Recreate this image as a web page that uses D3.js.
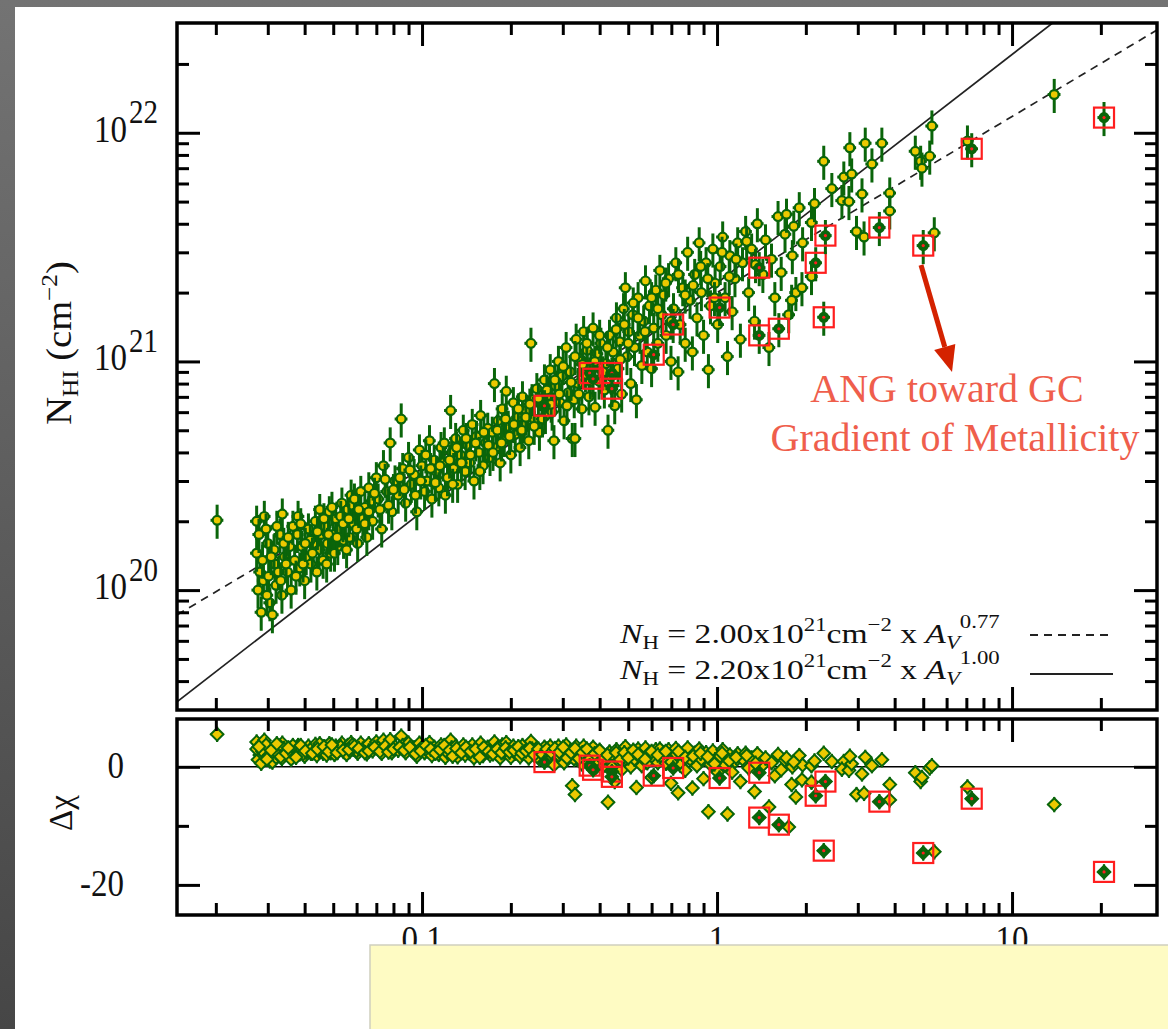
<!DOCTYPE html>
<html>
<head>
<meta charset="utf-8">
<script src="https://cdn.jsdelivr.net/npm/d3@7"></script>
<style>
  body { margin: 0; background: #5c5c5c; }
  svg { display: block; }
  text { font-family: 'Liberation Serif', 'Times New Roman', serif; }
</style>
</head>
<body>
<svg id="chart" width="1168" height="1029"></svg>
<script>
// ---- data ----
// A_V (mag), N_HI in units of 1e20 cm^-2, residual delta chi
const avMag = [
  0.0202, 0.0275, 0.0292, 0.0336, 0.0380, 0.0282, 0.0275, 0.0278, 0.0285, 0.0290,
  0.0300, 0.0305, 0.0311, 0.0317, 0.0320, 0.0330, 0.0335, 0.0342, 0.0350, 0.0356,
  0.0360, 0.0370, 0.0378, 0.0385, 0.0392, 0.0400, 0.0405, 0.0412, 0.0420, 0.0428,
  0.0435, 0.0440, 0.0448, 0.0455, 0.0462, 0.0470, 0.0478, 0.0485, 0.0490, 0.0500,
  0.0510, 0.0518, 0.0525, 0.0535, 0.0542, 0.0550, 0.0560, 0.0568, 0.0575, 0.0585,
  0.0595, 0.0605, 0.0288, 0.0296, 0.0302, 0.0315, 0.0326, 0.0340, 0.0365, 0.0395,
  0.0418, 0.0450, 0.0475, 0.0505, 0.0530, 0.0555, 0.0580, 0.0600, 0.0620, 0.0630,
  0.0650, 0.0675, 0.064, 0.066, 0.068, 0.070, 0.071, 0.073, 0.074, 0.076,
  0.078, 0.079, 0.081, 0.083, 0.085, 0.086, 0.088, 0.090, 0.092, 0.094,
  0.096, 0.098, 0.100, 0.102, 0.104, 0.106, 0.108, 0.110, 0.112, 0.114,
  0.116, 0.118, 0.120, 0.122, 0.125, 0.126, 0.128, 0.130, 0.132, 0.135,
  0.138, 0.140, 0.143, 0.145, 0.148, 0.150, 0.153, 0.156, 0.158, 0.161,
  0.164, 0.167, 0.170, 0.173, 0.176, 0.178, 0.181, 0.184, 0.187, 0.190,
  0.193, 0.196, 0.200, 0.204, 0.207, 0.211, 0.215, 0.219, 0.222, 0.226,
  0.230, 0.234, 0.236, 0.240, 0.245, 0.250, 0.255, 0.260, 0.262, 0.268,
  0.272, 0.276, 0.280, 0.284, 0.290, 0.294, 0.298, 0.303, 0.308, 0.313,
  0.318, 0.323, 0.330, 0.328, 0.333, 0.338, 0.343, 0.348, 0.353, 0.358,
  0.363, 0.368, 0.374, 0.380, 0.386, 0.392, 0.398, 0.404, 0.415, 0.420,
  0.427, 0.432, 0.438, 0.444, 0.450, 0.456, 0.462, 0.468, 0.475, 0.482,
  0.489, 0.495, 0.502, 0.510, 0.518, 0.525, 0.533, 0.540, 0.548, 0.556,
  0.564, 0.572, 0.580, 0.590, 0.600, 0.610, 0.620, 0.630, 0.640, 0.650,
  0.660, 0.672, 0.685, 0.698, 0.712, 0.725, 0.738, 0.750, 0.765, 0.780,
  0.795, 0.810, 0.825, 0.840, 0.855, 0.870, 0.885, 0.900, 0.918, 0.935,
  0.950, 0.968, 0.985, 1.005, 1.025, 1.045, 1.065, 1.085, 1.105, 1.125,
  1.150, 1.175, 1.20, 1.22, 1.25, 1.28, 1.31, 1.34, 1.37, 1.43,
  1.46, 1.50, 1.53, 1.57, 1.61, 1.65, 1.70, 1.75, 1.80, 1.85,
  1.90, 1.95, 1.72, 1.82, 1.79, 1.94, 2.09, 2.09, 2.14, 2.30,
  2.45, 2.69, 2.65, 2.80, 2.86, 2.82, 3.18, 3.62, 3.10, 3.35,
  3.85, 3.85, 2.97, 3.15, 4.70, 4.90, 5.26, 5.35, 4.95, 5.45,
  7.06, 13.9,
  0.0280, 0.0298, 0.0308, 0.0322, 0.0332, 0.0346, 0.0352, 0.0374, 0.0388, 0.0402,
  0.0425, 0.0442, 0.0465, 0.0482, 0.0495, 0.0515, 0.0540, 0.0565, 0.0590, 0.0610,
  0.0640, 0.0660, 0.0690, 0.0720, 0.0750, 0.0770, 0.0800, 0.0840, 0.0870, 0.0910,
  0.0950, 0.0990, 0.1030, 0.1070, 0.1110, 0.1150, 0.1190, 0.1240, 0.1270, 0.1310,
  0.1360, 0.1410, 0.1460, 0.1520, 0.1570, 0.1620, 0.1680, 0.1740, 0.1800, 0.1860,
  0.1920, 0.1980, 0.2050, 0.2120, 0.2180, 0.2250, 0.2320, 0.2400, 0.2480, 0.2560,
  0.2650, 0.2740, 0.2820, 0.2920, 0.3010, 0.3100, 0.3200, 0.3300, 0.3400, 0.3500,
  0.3620, 0.3720, 0.3850, 0.4000, 0.4100, 0.4250, 0.4400, 0.4550, 0.4700, 0.4850,
  0.5000, 0.5200, 0.5400, 0.5700, 0.6000, 0.6300, 0.6700, 0.7000, 0.7400, 0.7800,
  0.8300, 0.8800, 0.9300, 0.9800, 1.0400, 1.1000, 1.1600, 1.2600, 1.3500
];
const nhi20 = [
  2.02, 2.00, 2.10, 2.15, 2.10, 1.20, 1.45, 1.00, 0.80, 1.10,
  1.60, 0.88, 0.78, 1.30, 1.05, 1.75, 0.95, 1.40, 1.20, 1.55,
  1.00, 1.35, 1.75, 1.25, 1.55, 1.10, 1.40, 1.85, 1.30, 1.60,
  2.00, 1.20, 1.50, 1.75, 1.35, 1.90, 1.60, 2.20, 1.45, 1.75,
  2.05, 1.55, 1.85, 2.40, 1.65, 2.00, 2.25, 1.70, 2.60, 1.95,
  2.15, 1.60, 1.35, 1.85, 1.15, 1.50, 1.20, 1.60, 1.90, 1.30,
  1.65, 2.25, 1.30, 1.45, 2.10, 1.50, 2.35, 1.85, 2.70, 2.05,
  1.70, 2.45, 2.30, 2.80, 2.00, 3.10, 2.50, 1.85, 3.50, 2.70,
  4.40, 2.20, 3.00, 2.60, 5.60, 3.40, 2.40, 3.80, 2.90, 3.20,
  2.20, 4.10, 3.50, 2.70, 3.00, 4.50, 2.50, 3.70, 3.30, 2.80,
  4.20, 3.60, 2.60, 3.10, 6.10, 4.00, 3.40, 4.60, 2.90, 3.90,
  5.00, 3.30, 4.30, 3.60, 5.30, 3.00, 4.70, 4.00, 5.80, 3.50,
  4.40, 5.10, 3.80, 4.90, 8.00, 4.20, 5.50, 3.60, 6.20, 4.60,
  7.40, 5.20, 3.90, 6.60, 4.80, 5.70, 4.20, 7.00, 5.30, 6.10,
  4.50, 12.0, 6.80, 5.60, 7.60, 4.90, 6.40, 8.30, 5.80, 7.10,
  9.20, 6.00, 4.50, 7.80, 10.0, 6.60, 8.60, 5.50, 11.5, 7.30,
  9.00, 4.60, 4.60, 6.80, 12.5, 8.00, 10.3, 6.20, 13.5, 8.80,
  11.2, 7.00, 9.60, 14.0, 6.30, 10.8, 8.20, 12.0, 7.50, 9.80,
  5.00, 13.0, 8.60, 11.0, 6.40, 15.5, 9.30, 12.2, 7.20, 17.0,
  21.0, 10.5, 13.5, 8.00, 16.0, 11.5, 6.80, 19.0, 13.0, 9.60,
  15.0, 22.5, 11.0, 17.5, 9.30, 14.0, 20.5, 12.0, 25.0, 16.0,
  19.5, 13.0, 23.0, 10.0, 17.0, 27.0, 9.00, 14.5, 21.0, 12.0,
  30.0, 18.5, 11.0, 24.0, 15.5, 33.0, 20.0, 13.0, 27.0, 9.20,
  17.5, 31.0, 22.0, 14.5, 26.0, 35.0, 19.0, 10.5, 29.0, 16.5,
  23.0, 33.0, 12.5, 27.0, 37.0, 20.0, 31.0, 15.0, 40.0, 24.0,
  34.0, 11.5, 28.0, 19.0, 43.0, 24.5, 36.0, 16.0, 29.0, 20.0,
  47.0, 33.0, 44.0, 39.0, 18.5, 21.0, 23.5, 40.5, 49.0, 75.0,
  57.0, 64.0, 50.5, 50.0, 66.0, 86.0, 90.0, 90.0, 54.0, 73.0,
  54.5, 45.5, 37.0, 35.0, 83.0, 75.0, 79.0, 107, 70.0, 36.5,
  92.0, 147,
  1.75, 0.95, 1.40, 1.90, 1.10, 1.30, 1.70, 1.15, 1.95, 1.60,
  1.45, 1.80, 2.05, 1.75, 2.30, 1.70, 1.95, 2.05, 2.50, 2.25,
  1.95, 2.20, 2.65, 2.25, 3.05, 2.35, 2.75, 3.10, 2.75, 3.35,
  2.60, 3.00, 3.90, 3.40, 2.95, 3.50, 4.40, 3.70, 2.90, 4.20,
  3.60, 4.60, 3.90, 4.40, 3.30, 4.90, 4.30, 4.00, 5.00, 4.40,
  5.60, 4.70, 5.30, 6.20, 5.00, 5.70, 6.50, 5.20, 6.90, 5.60,
  7.50, 6.50, 8.30, 7.20, 9.50, 6.40, 8.10, 10.5, 7.20, 9.70,
  12.0, 8.20, 10.0, 13.0, 9.00, 11.5, 7.80, 13.8, 10.2, 14.5,
  12.0, 18.0, 15.5, 13.5, 19.0, 17.0, 22.0, 15.0, 24.0, 19.5,
  21.5, 26.0, 23.0, 19.0, 30.0, 23.5, 28.0, 33.5, 26.5
];
const dChi = [
  5.5, 4.2, 4.5, 4.0, 3.6, 2.0, 3.0, 1.2, 0.6, 2.0,
  3.2, 1.0, 0.8, 2.4, 1.6, 3.5, 1.4, 2.7, 2.2, 3.0,
  1.3, 2.5, 3.3, 2.2, 2.9, 1.8, 2.5, 3.5, 2.3, 2.8,
  3.8, 1.9, 2.6, 3.1, 2.3, 3.3, 2.8, 3.9, 2.4, 3.0,
  3.5, 2.5, 3.1, 4.0, 2.6, 3.2, 3.6, 2.6, 4.1, 3.0,
  3.3, 2.3, 2.6, 3.7, 1.9, 2.9, 2.1, 3.1, 3.6, 2.2,
  2.9, 3.9, 2.0, 2.1, 3.4, 2.1, 3.7, 2.7, 4.0, 3.0,
  2.2, 3.3, 3.2, 3.9, 2.7, 4.2, 3.3, 2.3, 4.5, 3.4,
  4.6, 2.4, 3.4, 2.8, 5.2, 3.6, 2.4, 4.0, 2.9, 3.2,
  1.8, 4.0, 3.3, 2.4, 2.7, 4.1, 1.9, 3.3, 2.8, 2.1,
  3.7, 3.0, 1.6, 2.4, 4.5, 3.2, 2.5, 3.5, 1.7, 2.8,
  3.7, 2.0, 3.0, 2.3, 3.7, 1.5, 3.1, 2.5, 4.0, 1.9,
  2.7, 3.3, 2.0, 3.0, 4.2, 2.3, 3.3, 1.5, 3.7, 2.5,
  4.1, 2.8, 1.6, 3.5, 2.3, 2.9, 1.7, 3.6, 2.4, 2.9,
  1.5, 4.3, 3.0, 2.2, 3.1, 1.3, 2.3, 3.3, 1.7, 2.6,
  3.5, 1.6, 0.3, 2.5, 3.5, 1.7, 2.7, 0.7, 3.7, 2.0,
  2.7, -3.2, -4.7, 1.3, 3.5, 1.9, 2.7, 0.5, 3.5, 1.7,
  2.6, 0.7, 2.0, 3.3, -0.3, 2.2, 0.9, 2.5, 0.3, 1.6,
  -6.0, 2.5, 0.8, 1.8, -2.5, 2.9, 1.0, 2.0, -0.5, 3.0,
  3.4, 1.2, 2.1, 0.0, 2.5, 1.3, -3.5, 3.0, 1.6, 0.2,
  2.1, 3.2, 0.7, 2.4, -1.8, 1.5, 2.9, 0.7, 3.0, 1.7,
  2.4, 0.6, 2.9, -2.8, 1.6, 3.1, -4.4, 0.3, 2.1, -0.6,
  3.2, 1.3, -3.6, 2.3, 0.2, 3.0, 1.3, -2.0, 2.4, -7.6,
  0.4, 2.7, 1.2, -0.9, 1.8, 2.9, 0.3, -8.0, 2.0, -0.9,
  0.9, 2.2, -2.5, 1.3, 2.3, -0.2, 1.5, -4.2, 2.2, 0.3,
  1.5, -6.8, 0.7, -1.5, 2.1, -0.5, 1.1, -10.2, 0.0, -5.1,
  1.9, 0.3, 1.5, 0.8, -3.0, -2.2, -2.6, 0.2, 1.0, 2.3,
  0.9, 0.9, -0.4, -0.6, 0.5, 1.8, 1.6, 1.2, -1.2, 0.2,
  -3.0, -5.6, -4.7, -4.5, -1.0, -2.5, -0.2, 0.2, -1.8, -14.4,
  -3.4, -6.4,
  3.4, 1.3, 2.8, 3.9, 1.7, 2.3, 3.2, 1.6, 3.6, 2.7,
  2.3, 3.0, 3.4, 2.6, 3.7, 2.4, 2.8, 2.9, 3.5, 3.1,
  2.4, 2.7, 3.3, 2.6, 3.5, 2.5, 3.0, 3.3, 2.8, 3.3,
  2.2, 2.7, 3.6, 3.0, 2.3, 2.9, 3.6, 2.8, 1.8, 3.1,
  2.4, 3.3, 2.6, 3.0, 1.6, 3.3, 2.6, 2.2, 3.0, 2.4,
  3.2, 2.5, 2.8, 3.4, 2.3, 2.7, 3.1, 2.0, 3.0, 2.1,
  3.0, 2.4, 3.1, 2.5, 3.3, 1.5, 2.4, 3.1, 1.4, 2.4,
  3.0, 1.4, 2.2, 2.8, 1.2, 2.0, 0.0, 2.4, 1.2, 2.4,
  1.5, 2.8, 2.1, 1.3, 2.6, 2.0, 2.6, 0.8, 2.6, 1.6,
  1.8, 2.3, 1.7, 0.5, 2.3, 1.0, 1.6, 1.9, 0.6
];

// sight lines marked with red squares (ANG toward the Galactic Centre)
const angAv    = [0.26, 0.37, 0.38, 0.44, 0.44, 0.61, 0.71, 1.02, 1.39, 1.39, 1.62, 2.16, 2.33, 2.30, 3.55, 5.00, 7.30, 20.5];
const angNhi20 = [6.4, 8.9, 8.4, 8.9, 7.6, 10.7, 14.5, 17.2, 25.7, 13.0, 13.9, 27.0, 35.5, 15.6, 38.5, 32.1, 85.1, 116.5];
const angDChi  = [0.8, 0.2, -0.5, -0.8, -1.7, -1.5, -0.2, -1.9, -1.0, -8.6, -9.8, -4.9, -2.5, -14.2, -5.9, -14.6, -5.4, -17.8];

// fitted relations N_H = norm * A_V^slope
const fitNorm  = [2.00e21, 2.20e21];
const fitSlope = [0.77, 1.00];
const fitLabel = ['2.00', '2.20'];
const fitSlopeLabel = ['0.77', '1.00'];

// ticks
const xMajor = [0.1, 1, 10];
const xMinor = [0.02, 0.03, 0.04, 0.05, 0.06, 0.07, 0.08, 0.09,
                0.2, 0.3, 0.4, 0.5, 0.6, 0.7, 0.8, 0.9,
                2, 3, 4, 5, 6, 7, 8, 9, 20];
const xLabels = ['0.1', '1', '10'];
const yMajor = [1e20, 1e21, 1e22];
const yMinor = [4e19, 5e19, 6e19, 7e19, 8e19, 9e19,
                2e20, 3e20, 4e20, 5e20, 6e20, 7e20, 8e20, 9e20,
                2e21, 3e21, 4e21, 5e21, 6e21, 7e21, 8e21, 9e21, 2e22];
const yExp = ['20', '21', '22'];
const rMajor = [0, -20];
const rMinor = [-10];
const rLabels = ['0', '-20'];

const ERR_N = 0.17;   // fractional N_HI error
const ERR_AV = 0.05;  // fractional A_V error
const ERR_CHI = 1.3;

// ---- layout ----
const L = 177, R = 1157, T1 = 23, B1 = 710, T2 = 719, B2 = 915;
const GREEN = '#0a650a', YELLOW = '#ecc900', RED = '#ff1e1e';

const svg = d3.select('#chart');

let defs = svg.append('defs');
let grad = defs.append('linearGradient').attr('id', 'bg').attr('x1', 0).attr('y1', 0).attr('x2', 0).attr('y2', 1);
grad.append('stop').attr('offset', 0).attr('stop-color', '#737373');
grad.append('stop').attr('offset', 1).attr('stop-color', '#464646');
defs.append('clipPath').attr('id', 'clipTop').append('rect')
    .attr('x', L).attr('y', T1).attr('width', R - L).attr('height', B1 - T1);
defs.append('clipPath').attr('id', 'clipBot').append('rect')
    .attr('x', L).attr('y', T2).attr('width', R - L).attr('height', B2 - T2);

svg.append('rect').attr('width', 1168).attr('height', 1029).attr('fill', 'url(#bg)');
svg.append('rect').attr('x', 15).attr('y', 7).attr('width', 1153).attr('height', 1022).attr('fill', '#fff');

// scales
let x = d3.scaleLog().domain([0.01477, 31.0]).range([L, R]);
let y = d3.scaleLog().domain([2.99e19, 3.02e22]).range([B1, T1]);
let yr = d3.scaleLinear().domain([-25.1, 8.1]).range([B2, T2]);

// fit lines
let gFit = svg.append('g').attr('clip-path', 'url(#clipTop)');
fitNorm.forEach((a, i) => {
    gFit.append('path')
        .attr('d', d3.line().x(v => x(v)).y(v => y(a * Math.pow(v, fitSlope[i])))(x.domain()))
        .attr('fill', 'none')
        .attr('stroke', '#222')
        .attr('stroke-width', 1.7)
        .attr('stroke-dasharray', i === 0 ? '8,6' : null);
});

// zero line of the residual panel
svg.append('line')
    .attr('x1', L).attr('x2', R).attr('y1', yr(0)).attr('y2', yr(0))
    .attr('stroke', '#000').attr('stroke-width', 1.6);

let pts = avMag.map((a, i) => ({ av: a, n: nhi20[i] * 1e20, d: dChi[i] }));
let ang = angAv.map((a, i) => ({ av: a, n: angNhi20[i] * 1e20, d: angDChi[i] }));

// top panel points: error bars then marker, one point after the other
let gTop = svg.append('g').attr('clip-path', 'url(#clipTop)');
function drawTop(g, flagged) {
    g.append('line')
        .attr('x1', d => x(d.av)).attr('x2', d => x(d.av))
        .attr('y1', d => y(d.n * (1 - ERR_N))).attr('y2', d => y(d.n * (1 + ERR_N)))
        .attr('stroke', GREEN).attr('stroke-width', 3);
    g.append('line')
        .attr('x1', d => x(d.av * (1 - ERR_AV))).attr('x2', d => x(d.av * (1 + ERR_AV)))
        .attr('y1', d => y(d.n)).attr('y2', d => y(d.n))
        .attr('stroke', GREEN).attr('stroke-width', 3);
    g.append('circle')
        .attr('cx', d => x(d.av)).attr('cy', d => y(d.n)).attr('r', 4.4)
        .attr('fill', flagged ? GREEN : YELLOW)
        .attr('stroke', GREEN).attr('stroke-width', 2.2);
    if (flagged) {
        g.append('circle')
            .attr('cx', d => x(d.av)).attr('cy', d => y(d.n)).attr('r', 1.6)
            .attr('fill', RED);
        g.append('rect')
            .attr('x', d => x(d.av) - 10).attr('y', d => y(d.n) - 10)
            .attr('width', 20).attr('height', 20)
            .attr('fill', 'none').attr('stroke', RED).attr('stroke-width', 2.2);
    }
}
drawTop(gTop.selectAll('g.pt').data(pts).join('g').attr('class', 'pt'), false);
drawTop(gTop.selectAll('g.ang').data(ang).join('g').attr('class', 'ang'), true);

// bottom panel points
let gBot = svg.append('g').attr('clip-path', 'url(#clipBot)');
let diamond = d3.symbol().type(d3.symbolSquare).size(80);
function drawBot(g, flagged) {
    g.append('line')
        .attr('x1', d => x(d.av)).attr('x2', d => x(d.av))
        .attr('y1', d => yr(d.d - ERR_CHI)).attr('y2', d => yr(d.d + ERR_CHI))
        .attr('stroke', GREEN).attr('stroke-width', 2.2);
    g.append('line')
        .attr('x1', d => x(d.av * (1 - ERR_AV))).attr('x2', d => x(d.av * (1 + ERR_AV)))
        .attr('y1', d => yr(d.d)).attr('y2', d => yr(d.d))
        .attr('stroke', GREEN).attr('stroke-width', 2.2);
    g.append('path')
        .attr('d', diamond)
        .attr('transform', d => `translate(${x(d.av)},${yr(d.d)}) rotate(45)`)
        .attr('fill', flagged ? GREEN : YELLOW)
        .attr('stroke', GREEN).attr('stroke-width', 2);
    if (flagged) {
        g.append('circle')
            .attr('cx', d => x(d.av)).attr('cy', d => yr(d.d)).attr('r', 1.6)
            .attr('fill', RED);
        g.append('rect')
            .attr('x', d => x(d.av) - 10).attr('y', d => yr(d.d) - 10)
            .attr('width', 20).attr('height', 20)
            .attr('fill', 'none').attr('stroke', RED).attr('stroke-width', 2.2);
    }
}
drawBot(gBot.selectAll('g.pt').data(pts).join('g').attr('class', 'pt'), false);
drawBot(gBot.selectAll('g.ang').data(ang).join('g').attr('class', 'ang'), true);

// ---- frames and inward ticks ----
function ticks(axisFn, scale, values, size, tx, ty) {
    let g = svg.append('g').attr('transform', `translate(${tx},${ty})`)
        .call(axisFn(scale).tickValues(values).tickSize(size).tickSizeOuter(0).tickFormat(''));
    g.select('.domain').remove();
    g.selectAll('line').attr('stroke', '#000').attr('stroke-width', 3);
}
[[T1, B1, y, yMajor, yMinor], [T2, B2, yr, rMajor, rMinor]].forEach(([t, b, ys, maj, mnr]) => {
    ticks(d3.axisBottom, x, xMajor, -23, 0, b);
    ticks(d3.axisBottom, x, xMinor, -12, 0, b);
    ticks(d3.axisTop, x, xMajor, -23, 0, t);
    ticks(d3.axisTop, x, xMinor, -12, 0, t);
    ticks(d3.axisLeft, ys, maj, -23, L, 0);
    ticks(d3.axisLeft, ys, mnr, -12, L, 0);
    ticks(d3.axisRight, ys, maj, -23, R, 0);
    ticks(d3.axisRight, ys, mnr, -12, R, 0);
    svg.append('rect').attr('x', L).attr('y', t).attr('width', R - L).attr('height', b - t)
        .attr('fill', 'none').attr('stroke', '#000').attr('stroke-width', 3.5);
});

// ---- tick labels ----
yMajor.forEach((v, i) => {
    let t = svg.append('g').attr('transform', `translate(158,${y(v) + 9}) scale(1,1.15)`)
        .append('text').attr('text-anchor', 'end').attr('fill', '#111');
    t.append('tspan').attr('font-size', 33).text('10');
    t.append('tspan').attr('font-size', 29).attr('dx', 2).attr('dy', -16).text(yExp[i]);
});
rMajor.forEach((v, i) => {
    svg.append('g').attr('transform', `translate(124,${yr(v) + 11}) scale(1,1.15)`)
        .append('text').attr('text-anchor', 'end').attr('font-size', 33).attr('fill', '#111')
        .text(rLabels[i]);
});
xMajor.forEach((v, i) => {
    svg.append('g').attr('transform', `translate(${x(v)},${B2 + 37}) scale(1,1.15)`)
        .append('text').attr('text-anchor', 'middle').attr('font-size', 33).attr('fill', '#111')
        .text(xLabels[i]);
});

// axis titles
let yt = svg.append('text').attr('transform', 'translate(71,343) rotate(-90) scale(1.1,1)')
    .attr('text-anchor', 'middle').attr('font-size', 35).attr('fill', '#111');
yt.append('tspan').text('N');
yt.append('tspan').attr('font-size', 23).attr('dy', 7).text('HI');
yt.append('tspan').attr('dy', -7).text(' (cm');
yt.append('tspan').attr('font-size', 23).attr('dy', -14).text('\u22122');
yt.append('tspan').attr('dy', 14).text(')');

svg.append('text').attr('transform', 'translate(72,813) rotate(-90)')
    .attr('text-anchor', 'middle').attr('font-size', 33).attr('fill', '#111')
    .text('\u0394\u03c7');

// ---- legend ----
function legendLine(yb, norm, slope) {
    let t = svg.append('g').attr('transform', `translate(620,${yb}) scale(1.2,1)`)
        .append('text').attr('font-size', 28).attr('fill', '#111');
    t.append('tspan').attr('font-style', 'italic').text('N');
    t.append('tspan').attr('font-size', 19).attr('dy', 6).text('H');
    t.append('tspan').attr('dy', -6).text(' =  ' + norm + 'x10');
    t.append('tspan').attr('font-size', 19).attr('dy', -12).text('21');
    t.append('tspan').attr('dy', 12).text('cm');
    t.append('tspan').attr('font-size', 19).attr('dy', -12).text('\u22122');
    t.append('tspan').attr('dy', 12).text(' x ');
    t.append('tspan').attr('font-style', 'italic').text('A');
    t.append('tspan').attr('font-style', 'italic').attr('font-size', 19).attr('dy', 6).text('V');
    t.append('tspan').attr('font-size', 19).attr('dy', -21).text(slope);
}
legendLine(643, fitLabel[0], fitSlopeLabel[0]);
legendLine(679, fitLabel[1], fitSlopeLabel[1]);
svg.append('line').attr('x1', 1030).attr('x2', 1112).attr('y1', 635).attr('y2', 635)
    .attr('stroke', '#222').attr('stroke-width', 1.8).attr('stroke-dasharray', '8,6');
svg.append('line').attr('x1', 1030).attr('x2', 1113).attr('y1', 674).attr('y2', 674)
    .attr('stroke', '#222').attr('stroke-width', 1.8);

// ---- annotation ----
let arrowFrom = [921, 265], arrowTo = [952, 372];
let ang2 = Math.atan2(arrowTo[1] - arrowFrom[1], arrowTo[0] - arrowFrom[0]);
let headLen = 26, headW = 11;
let bx = arrowTo[0] - headLen * Math.cos(ang2), by = arrowTo[1] - headLen * Math.sin(ang2);
svg.append('line').attr('x1', arrowFrom[0]).attr('y1', arrowFrom[1]).attr('x2', bx).attr('y2', by)
    .attr('stroke', '#d42200').attr('stroke-width', 5);
svg.append('path')
    .attr('d', `M${arrowTo[0]},${arrowTo[1]}L${bx - headW * Math.sin(ang2)},${by + headW * Math.cos(ang2)}L${bx + headW * Math.sin(ang2)},${by - headW * Math.cos(ang2)}Z`)
    .attr('fill', '#d42200');
svg.append('text').attr('x', 947).attr('y', 402).attr('text-anchor', 'middle')
    .attr('font-size', 40).attr('fill', '#ef5e4c').text('ANG toward GC');
svg.append('text').attr('x', 955).attr('y', 451).attr('text-anchor', 'middle')
    .attr('font-size', 40).attr('fill', '#ef5e4c').text('Gradient of Metallicity');

// ---- overlay note box ----
svg.append('rect').attr('x', 370).attr('y', 945).attr('width', 800).attr('height', 90)
    .attr('fill', '#fefbc3').attr('stroke', '#cfcfbf').attr('stroke-width', 1.5);
</script>
</body>
</html>
